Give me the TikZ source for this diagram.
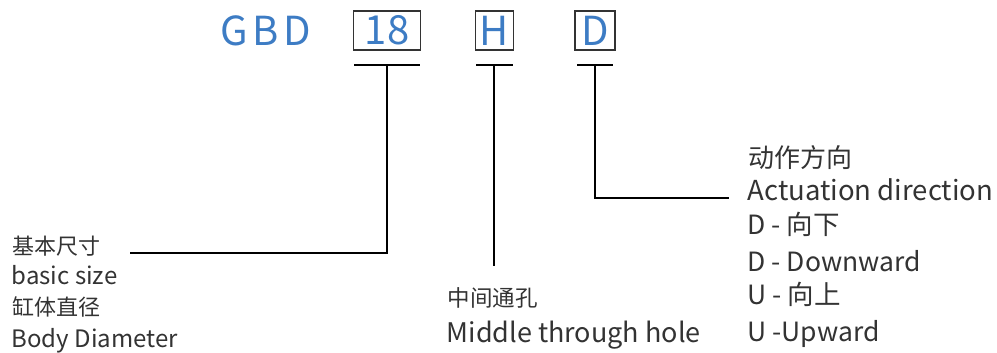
\documentclass[tikz,border=0pt]{standalone}
\usepackage{fontspec}
\setmainfont{Noto Sans CJK SC}
\newfontfamily\codefont[LetterSpace=12]{Noto Sans CJK SC}
\definecolor{codeblue}{HTML}{3D7CC4}
\definecolor{textgray}{HTML}{333333}

\begin{document}
\begin{tikzpicture}[x=1pt, y=-1pt, line width=1.3pt,
  every node/.style={inner sep=0pt, text=textgray, font=\fontsize{22}{26}\selectfont},
  codebox/.style={draw=textgray, line width=1.2pt, minimum height=39pt, text=codeblue,
    font=\fontsize{40}{40}\selectfont},
  label/.style={anchor=base west},
  big/.style={font=\fontsize{#1}{30}\selectfont}]
\useasboundingbox (0,0) rectangle (997,353);
% model code
\node[text=codeblue, font=\codefont\fontsize{40}{40}\selectfont] (gbd) at (266,31) {GBD};
\node[codebox, minimum width=67pt] (size) at (387,30.5) {18};
\node[codebox, minimum width=38pt] (hole) at (494.5,30.5) {H};
\node[codebox, minimum width=40pt] (dir) at (595,30.5) {D};
% T bars under the boxes
\draw (354,65) -- (420,65);
\draw (476,65) -- (513,65);
\draw (577,65) -- (613,65);
\coordinate (sizeT) at (387,65);
\coordinate (holeT) at (494,65);
\coordinate (dirT) at (595,65);
\coordinate (sizeEnd) at (130,253);
\coordinate (holeEnd) at (494,266);
\coordinate (dirEnd) at (729,198);
\draw (sizeT) |- (sizeEnd);
\draw (holeT) -- (holeEnd);
\draw (dirT) |- (dirEnd);
% left labels
\node[label] (sizeCn) at (12,254) {基本尺寸};
\node[label, big=24] (sizeEn) at (11,284) {basic size};
\node[label] (bodyCn) at (12,315) {缸体直径};
\node[label, big=24] (bodyEn) at (11,347) {Body Diameter};
% middle labels
\node[label, big=22.5] (holeCn) at (447,306) {中间通孔};
\node[label, big=27] (holeEn) at (446,342) {Middle through hole};
% right labels
\node[label, big=26] (dirCn) at (748,167) {动作方向};
\node[label, big=27.5] (dirEn) at (747,200) {Actuation direction};
\node[label, big=26.5] (downCn) at (747,234) {D - 向下};
\node[label, big=26.5] (downEn) at (747,271) {D - Downward};
\node[label, big=26.5] (upCn) at (747,304) {U - 向上};
\node[label, big=26.5] (upEn) at (747,341) {U -Upward};
\end{tikzpicture}
\end{document}
